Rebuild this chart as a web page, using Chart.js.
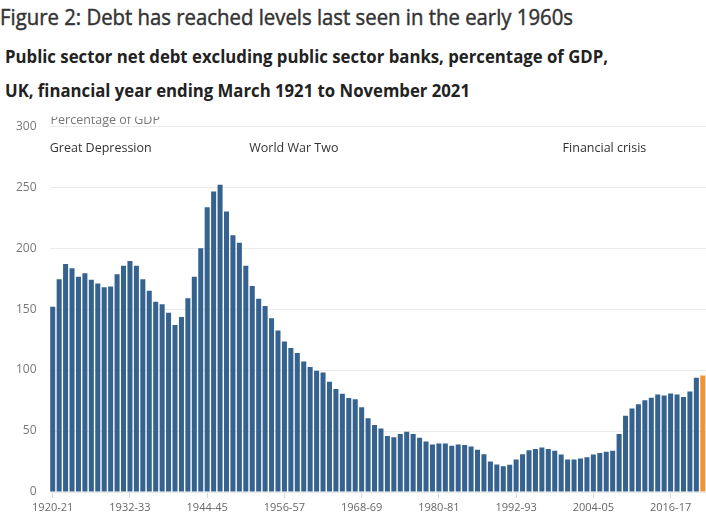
<!DOCTYPE html>
<html>
<head>
<meta charset="utf-8">
<script src="https://cdn.jsdelivr.net/npm/chart.js@4/dist/chart.umd.min.js"></script>
<style>
    body { margin: 0; width: 706px; height: 517px; background: #fff; overflow: hidden; position: relative; font-family: "Open Sans", sans-serif; }
    .texte { position: absolute; white-space: nowrap; transform-origin: 0 0; color: #333; }
    #titre { left: 0; top: 3px; font-size: 21px; font-weight: 400; color: #333; -webkit-text-stroke: 0.45px #333; }
    #sous1 { left: 5px; top: 44px; font-size: 18px; font-weight: 700; color: #222; }
    #sous2 { left: 5px; top: 78px; font-size: 18px; font-weight: 700; color: #222; }
    #graphique { position: absolute; left: 0; top: 106px; }
</style>
</head>
<body>
<div class="texte" id="titre">Figure 2: Debt has reached levels last seen in the early 1960s</div>
<div class="texte" id="sous1">Public sector net debt excluding public sector banks, percentage of GDP,</div>
<div class="texte" id="sous2">UK, financial year ending March 1921 to November 2021</div>
<canvas id="graphique" width="706" height="411"></canvas>
<script>
// Années financières 1920-21 à 2021-22 (la dernière = novembre 2021)
const premiereAnnee = 1920;
const nbAnnees = 102;
const annees = [];
for (let i = 0; i < nbAnnees; i++) {
    const a = premiereAnnee + i;
    annees.push(a + "-" + String((a + 1) % 100).padStart(2, "0"));
}

// Dette nette en % du PIB
const detteAvantGuerre = [152, 174.5, 187, 183.5, 176.5, 179.5, 174, 171, 168, 168.5,
    178.5, 185.5, 189.5, 185.5, 174.5, 165, 156, 154, 147, 137];
const detteGuerre = [143.5, 159, 176.5, 200, 233.5, 246.5, 252, 230, 210.5, 204.5,
    185.5, 169, 158.5, 152.5, 142.5, 132.5, 123.5, 118, 114, 107];
const detteApresGuerre = [102.5, 99.5, 98, 90.5, 84.5, 80.5, 77, 76, 69.5, 60.5,
    55, 52, 46, 45, 47.5, 49.5, 47.5, 44.5, 41.5, 39];
const detteFinSiecle = [39.8, 39.8, 38, 39, 38.5, 37.3, 34.6, 31, 25, 22.5,
    21.2, 22.3, 26.6, 31, 34.3, 35.2, 36.5, 35.2, 33.8, 30.8];
const detteRecente = [26.6, 26.6, 27.5, 28.6, 30.8, 31.9, 33, 33.8, 47.5, 62.6,
    68.4, 72, 75.3, 77.2, 80, 79.1, 80.8, 80, 78, 82.4, 93.7, 95.6];
const dette = [...detteAvantGuerre, ...detteGuerre, ...detteApresGuerre, ...detteFinSiecle, ...detteRecente];

const etiquettesX = ["1920-21", "1932-33", "1944-45", "1956-57", "1968-69", "1980-81", "1992-93", "2004-05", "2016-17"];
const evenements = ["Great Depression", "World War Two", "Financial crisis"];
const evenementsAnnee = ["1920-21", "1951-52", "2000-01"];

const bleu = "#35628f";
const orange = "#f39431";
const couleurs = dette.map((v, i) => i === dette.length - 1 ? orange : bleu);

// ajuste la largeur des titres (police plus étroite dans l'original)
[["titre", 573], ["sous1", 603], ["sous2", 465]].forEach(([id, largeur]) => {
    const el = document.getElementById(id);
    const w = el.getBoundingClientRect().width;
    el.style.transform = `scaleX(${largeur / w})`;
});

const pluginTextes = {
    id: "textes",
    afterDraw(chart) {
        const ctx = chart.ctx;
        const x = chart.scales.x;
        const haut = chart.chartArea.top;
        ctx.save();
        // libellé de l'axe, coupé en haut comme dans l'original
        ctx.save();
        ctx.beginPath();
        ctx.rect(0, haut - 9.5, chart.width, 20);
        ctx.clip();
        ctx.font = "12.5px 'Open Sans'";
        ctx.fillStyle = "#777";
        ctx.textBaseline = "alphabetic";
        ctx.textAlign = "left";
        ctx.fillText("Percentage of GDP", chart.chartArea.left + 1, haut - 2.5);
        ctx.restore();
        ctx.font = "12.5px 'Open Sans'";
        ctx.fillStyle = "#333";
        ctx.textBaseline = "middle";
        evenements.forEach((txt, i) => {
            const px = x.getPixelForValue(annees.indexOf(evenementsAnnee[i])) - 3;
            ctx.fillText(txt, i === 2 ? px - 2 : px, haut + 22);
        });
        ctx.restore();
    }
};

const ctx = document.querySelector("#graphique").getContext("2d");
new Chart(ctx, {
    type: "bar",
    data: {
        labels: annees,
        datasets: [{
            label: "Public sector net debt",
            data: dette,
            backgroundColor: couleurs,
            barPercentage: 0.78,
            categoryPercentage: 1,
        }]
    },
    options: {
        responsive: false,
        animation: false,
        layout: { padding: { top: 4, right: 0, bottom: 0, left: 0 } },
        plugins: {
            legend: { display: false },
            tooltip: { enabled: false },
        },
        scales: {
            x: {
                offset: true,
                border: { display: false },
                grid: {
                    offset: false,
                    drawOnChartArea: false,
                    tickLength: 6,
                    color: c => etiquettesX.includes(annees[c.index]) ? "#cfd8e3" : "transparent",
                },
                ticks: {
                    autoSkip: false,
                    maxRotation: 0,
                    minRotation: 0,
                    padding: 3,
                    color: "#666",
                    font: { family: "'Open Sans'", size: 11 },
                    callback: (v, i) => etiquettesX.includes(annees[i]) ? annees[i] : "",
                },
                afterFit: s => { s.height = 25; },
            },
            y: {
                min: 0,
                max: 300,
                border: { display: false },
                grid: { color: "#ebebeb", drawTicks: false },
                ticks: {
                    stepSize: 50,
                    padding: 13,
                    color: "#777",
                    font: { family: "'Open Sans'", size: 12 },
                },
                afterFit: s => { s.width = 49.5; },
            }
        }
    },
    plugins: [pluginTextes],
});
</script>
</body>
</html>
